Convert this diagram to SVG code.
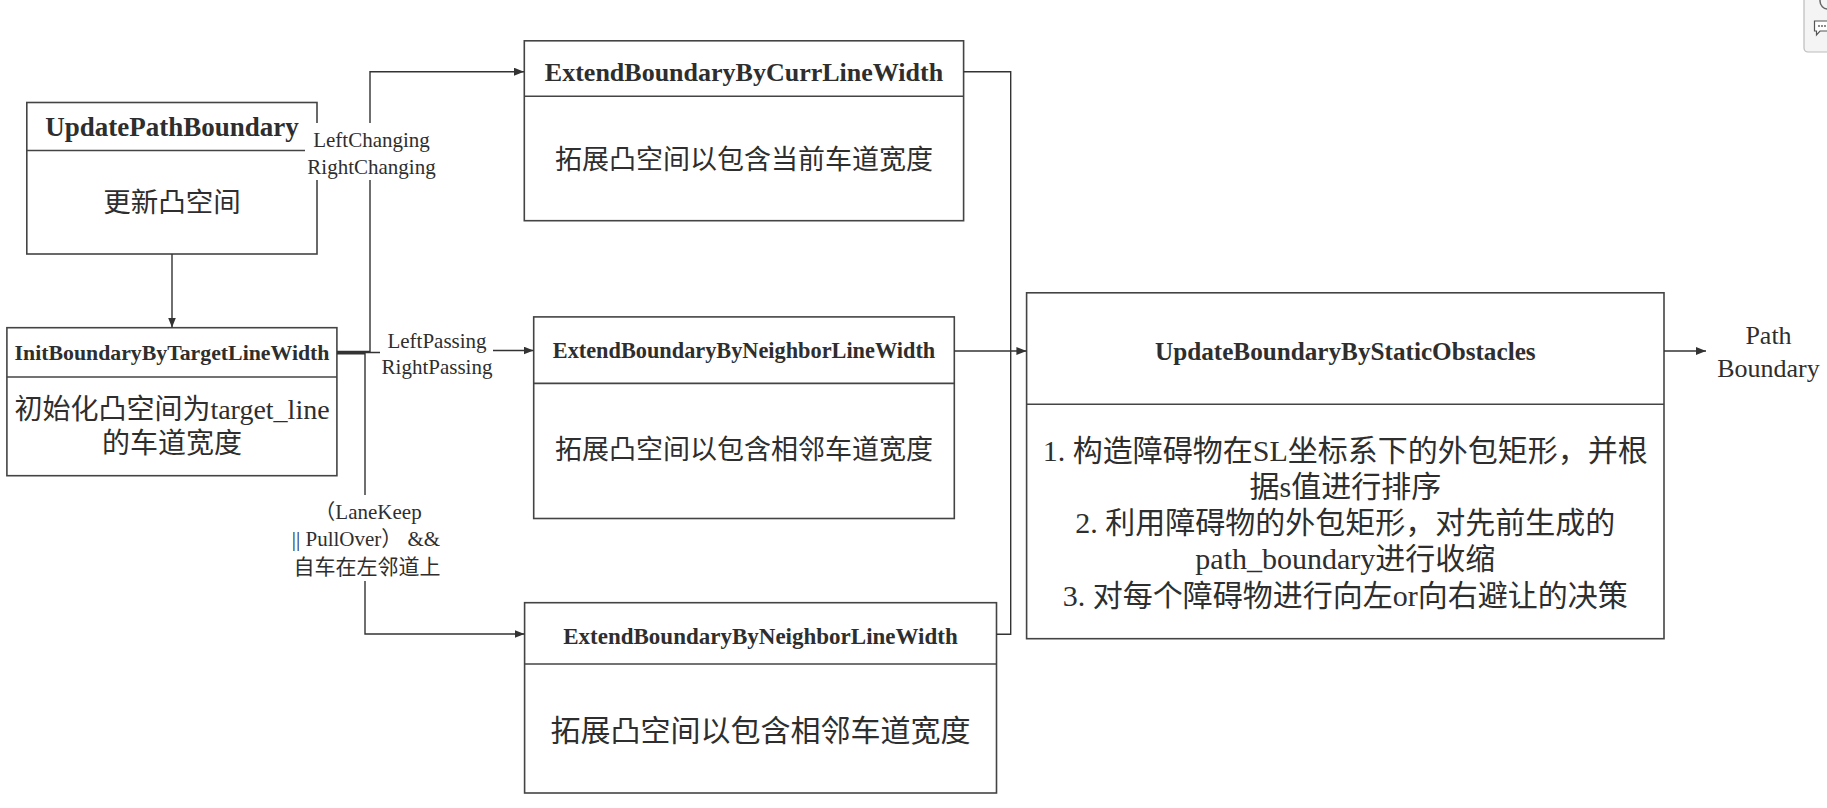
<svg xmlns="http://www.w3.org/2000/svg" width="1827" height="808" viewBox="0 0 1827 808">
<defs>
<marker id="arr" viewBox="0 0 10 8" refX="10" refY="4" markerWidth="10" markerHeight="8" markerUnits="userSpaceOnUse" orient="auto">
<path d="M0,0 L10,4 L0,8 z" fill="#333"/>
</marker>
<style>
.box{fill:#fff;stroke:#444;stroke-width:1.6}
.div{stroke:#444;stroke-width:1.6}
.t{font-family:"Liberation Serif","Noto Sans CJK SC",serif;font-weight:bold;fill:#2e2e2e;text-anchor:middle;dominant-baseline:central}
.b{font-family:"Liberation Serif","Noto Sans CJK SC",serif;fill:#2e2e2e;text-anchor:middle;dominant-baseline:central}
.c{fill:none;stroke:#333;stroke-width:1.4}
.lbg{fill:#fff}
.lb{font-family:"Liberation Serif","Noto Sans CJK SC",serif;fill:#2e2e2e;text-anchor:middle;dominant-baseline:central;font-size:21px}
</style>
</defs>
<rect width="1827" height="808" fill="#fff"/>

<g id="node-update-path-boundary">
<rect class="box" x="26.8" y="102.5" width="290.2" height="151.5"/>
<line class="div" x1="26.8" y1="150.5" x2="317" y2="150.5"/>
<text class="t" x="172" y="127" font-size="27">UpdatePathBoundary</text>
<text class="b" x="172" y="202" font-size="27.5">更新凸空间</text>
</g>

<g id="node-init-boundary">
<rect class="box" x="6.9" y="327.7" width="330" height="148"/>
<line class="div" x1="6.9" y1="377" x2="336.9" y2="377"/>
<text class="t" x="172" y="352.7" font-size="21.8">InitBoundaryByTargetLineWidth</text>
<text class="b" x="172" y="409" font-size="28">初始化凸空间为target_line</text>
<text class="b" x="172" y="443" font-size="28">的车道宽度</text>
</g>

<g id="node-extend-curr">
<rect class="box" x="524.3" y="40.8" width="439.3" height="179.9"/>
<line class="div" x1="524.3" y1="96.3" x2="963.6" y2="96.3"/>
<text class="t" x="744" y="72" font-size="26">ExtendBoundaryByCurrLineWidth</text>
<text class="b" x="744" y="160" font-size="27">拓展凸空间以包含当前车道宽度</text>
</g>

<g id="node-extend-neighbor-mid">
<rect class="box" x="533.7" y="316.9" width="420.6" height="201.6"/>
<line class="div" x1="533.7" y1="383.4" x2="954.3" y2="383.4"/>
<text class="t" x="744" y="350.7" font-size="22.3">ExtendBoundaryByNeighborLineWidth</text>
<text class="b" x="744" y="450" font-size="27">拓展凸空间以包含相邻车道宽度</text>
</g>

<g id="node-extend-neighbor-bottom">
<rect class="box" x="524.6" y="602.7" width="471.9" height="190.3"/>
<line class="div" x1="524.6" y1="664" x2="996.5" y2="664"/>
<text class="t" x="760.5" y="636" font-size="23">ExtendBoundaryByNeighborLineWidth</text>
<text class="b" x="760.5" y="730" font-size="30">拓展凸空间以包含相邻车道宽度</text>
</g>

<g id="node-static-obstacles">
<rect class="box" x="1026.6" y="292.8" width="637.4" height="345.9"/>
<line class="div" x1="1026.6" y1="404.2" x2="1664" y2="404.2"/>
<text class="t" x="1345.3" y="351" font-size="25.2">UpdateBoundaryByStaticObstacles</text>
<text class="b" x="1345.3" y="450" font-size="30">1. 构造障碍物在SL坐标系下的外包矩形，并根</text>
<text class="b" x="1345.3" y="486" font-size="30">据s值进行排序</text>
<text class="b" x="1345.3" y="522" font-size="30">2. 利用障碍物的外包矩形，对先前生成的</text>
<text class="b" x="1345.3" y="558.5" font-size="30">path_boundary进行收缩</text>
<text class="b" x="1345.3" y="595" font-size="30">3. 对每个障碍物进行向左or向右避让的决策</text>
</g>

<g id="node-path-boundary-out">
<text class="b" x="1768.5" y="335" font-size="26">Path</text>
<text class="b" x="1768.5" y="368" font-size="26">Boundary</text>
</g>

<g id="connectors">
<path class="c" d="M172,254 V327.5" marker-end="url(#arr)"/>
<path class="c" d="M337,351.5 H370 V71.7 H524" marker-end="url(#arr)"/>
<path class="c" d="M337,352.5 H437 V350.5 H533.5" marker-end="url(#arr)"/>
<path class="c" d="M337,353.8 H365 V634 H524.5" marker-end="url(#arr)"/>
<path class="c" d="M963.6,71.7 H1010.7 V634.3 H996.5"/>
<path class="c" d="M954.3,351 H1026.4" marker-end="url(#arr)"/>
<path class="c" d="M1664,351 H1706" marker-end="url(#arr)"/>

<g id="label-changing">
<rect class="lbg" x="305" y="123" width="133" height="57"/>
<text class="lb" x="371.5" y="140">LeftChanging</text>
<text class="lb" x="371.5" y="166.7">RightChanging</text>
</g>
<g id="label-passing">
<rect class="lbg" x="380" y="326" width="113" height="54"/>
<text class="lb" x="437" y="340.7">LeftPassing</text>
<text class="lb" x="437" y="366.7">RightPassing</text>
</g>
<g id="label-lanekeep">
<rect class="lbg" x="284" y="495" width="164" height="86"/>
<text class="lb" x="368" y="511.7" font-size="22.3">（LaneKeep</text>
<text class="lb" x="366" y="539.3" font-size="22.3">|| PullOver）  &amp;&amp;</text>
<text class="lb" x="367" y="566.7" font-size="22.5">自车在左邻道上</text>
</g>
</g>

<g id="ui-widget">
<rect x="1804" y="-6" width="40" height="58" rx="4" fill="#f4f4f4" stroke="#bbb" stroke-width="1.2"/>
<circle cx="1828" cy="1" r="8" fill="none" stroke="#666" stroke-width="1.5"/>
<path d="M1814.5,21 H1830 V31 H1820 L1816.5,35 V31 H1814.5 Z" fill="#fff" stroke="#555" stroke-width="1.2"/>
<circle cx="1819" cy="26" r="0.9" fill="#555"/>
<circle cx="1822" cy="26" r="0.9" fill="#555"/>
<circle cx="1825" cy="26" r="0.9" fill="#555"/>
</g>
</svg>
